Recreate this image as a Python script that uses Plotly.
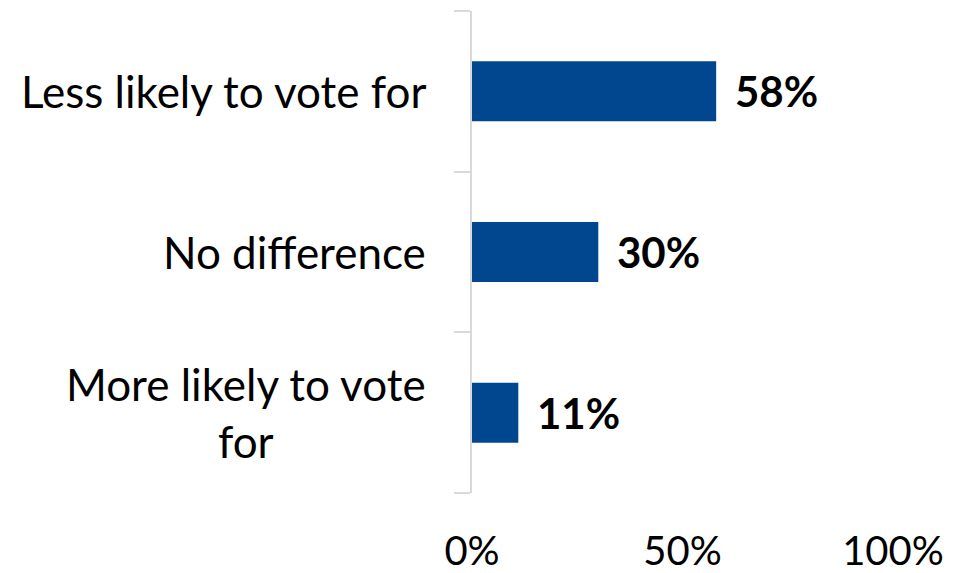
import plotly.graph_objects as go

categories = ["Less likely to vote for", "No difference", "More likely to vote for"]
display_labels = ["Less likely to vote for", "No difference", "More likely to vote<br>for"]
values = [58, 30, 11]
value_labels = ["58%", "30%", "11%"]
tick_vals = [0, 50, 100]
tick_text = ["0%", "50%", "100%"]

FONT = "Lato"
BAR_COLOR = "#00478F"

fig = go.Figure()
fig.add_trace(go.Bar(
    y=categories, x=values, orientation="h",
    marker=dict(color=BAR_COLOR, line=dict(width=0)),
    hoverinfo="skip",
))

annotations = []
for cat, lab in zip(categories, display_labels):
    annotations.append(dict(
        x=0, xref="paper", y=cat, yref="y", text=lab,
        xanchor="right", yanchor="middle", align="center",
        xshift=-44, showarrow=False,
        font=dict(family=FONT, size=44, color="#000000"),
    ))
for cat, v, lab in zip(categories, values, value_labels):
    annotations.append(dict(
        x=v, xref="x", y=cat, yref="y", text="<b>" + lab + "</b>",
        xanchor="left", yanchor="middle", xshift=17,
        showarrow=False,
        font=dict(family=FONT, size=42, color="#000000"),
    ))

fig.update_layout(
    width=969, height=573,
    margin=dict(l=472, r=76, t=11, b=80, autoexpand=False),
    paper_bgcolor="white", plot_bgcolor="white",
    bargap=0.627,
    showlegend=False,
    annotations=annotations,
    xaxis=dict(
        range=[0, 100], tickvals=tick_vals, ticktext=tick_text,
        showgrid=False, zeroline=False, showline=False, ticks="",
        ticklabelstandoff=31, automargin=False,
        tickfont=dict(family=FONT, size=40, color="#000000"),
    ),
    yaxis=dict(
        categoryorder="array", categoryarray=categories[::-1],
        showgrid=False, zeroline=False, automargin=False,
        showline=True, linecolor="#D9D9D9", linewidth=2,
        ticks="outside", tickson="boundaries", ticklen=16,
        tickcolor="#D9D9D9", tickwidth=2,
        showticklabels=False,
    ),
)

fig.write_html(
    "out.html",
    config={"displayModeBar": False},
    post_script="document.body.style.margin='0';document.body.style.overflow='hidden';",
)
